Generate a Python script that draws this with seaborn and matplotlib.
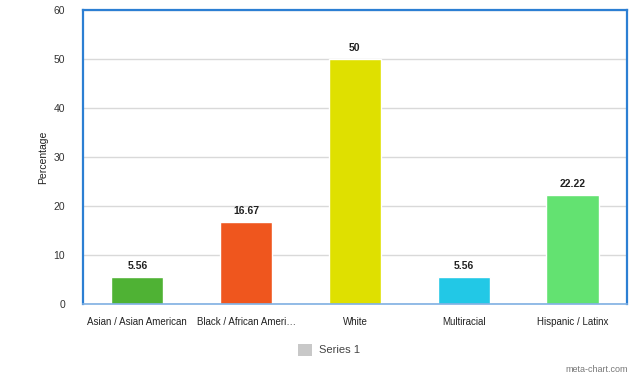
import matplotlib
matplotlib.use("Agg")
import matplotlib.pyplot as plt
from matplotlib.patches import Rectangle
import seaborn as sns
import pandas as pd

categories = ["Asian / Asian American", "Black / African Ameri…", "White",
              "Multiracial", "Hispanic / Latinx"]
values = [5.56, 16.67, 50, 5.56, 22.22]
value_labels = ["5.56", "16.67", "50", "5.56", "22.22"]
colors = ["#4fb234", "#ef561e", "#dfe000", "#22c8e6", "#63e271"]
y_ticks = [0, 10, 20, 30, 40, 50, 60]

sns.set_theme(style="white")
plt.rcParams["font.family"] = ["Liberation Sans", "DejaVu Sans"]

df = pd.DataFrame({"category": categories, "value": values})

fig = plt.figure(figsize=(6.31, 3.91), dpi=100)
ax = fig.add_axes([0.1315, 0.2225, 0.862, 0.752])

sns.barplot(data=df, x="category", y="value", hue="category",
            palette=colors, width=0.48, saturation=1, legend=False, ax=ax)

ax.set_ylim(0, 60)
ax.set_xlim(-0.5, len(categories) - 0.5)
ax.set_yticks(y_ticks)
ax.set_yticklabels([str(t) for t in y_ticks], fontsize=7.5, color="#333333")
ax.grid(axis="y", color="#d9d9d9", linewidth=1)
ax.set_axisbelow(True)

# category boundary ticks under the x axis
ax.set_xticks([i - 0.5 for i in range(len(categories) + 1)], minor=True)
ax.set_xticks(range(len(categories)))
ax.set_xticklabels(categories, fontsize=7, color="#222222")
ax.tick_params(axis="x", which="major", length=0, pad=9)
ax.tick_params(axis="x", which="minor", length=8, color="#c8d8ea", width=1)
ax.tick_params(axis="y", length=9, color="#c8d8ea", width=1, pad=4)

ax.set_xlabel("")
ax.set_ylabel("Percentage", fontsize=7.5, color="#222222", labelpad=4)

for spine in ax.spines.values():
    spine.set_visible(True)
    spine.set_color("#2c7fd3")
    spine.set_linewidth(1.6)
ax.spines["bottom"].set_color("#7fb0e3")
ax.spines["bottom"].set_linewidth(1.2)

for i, (v, lab) in enumerate(zip(values, value_labels)):
    ax.text(i, v + 1.2, lab, ha="center", va="bottom", fontsize=7.5,
            fontweight="bold", color="#222222")

# legend entry and footer
fig.patches.append(Rectangle((298 / 631, 1 - 356 / 391), 14 / 631, 12 / 391,
                             transform=fig.transFigure, facecolor="#c8c8c8",
                             edgecolor="none"))
fig.text(319 / 631, 1 - 350 / 391, "Series 1", fontsize=8, color="#444444",
         va="center", ha="left")
fig.text(628 / 631, 1 - 369 / 391, "meta-chart.com", fontsize=6.5, color="#777777",
         va="center", ha="right")

fig.savefig("out.png", dpi=100)
